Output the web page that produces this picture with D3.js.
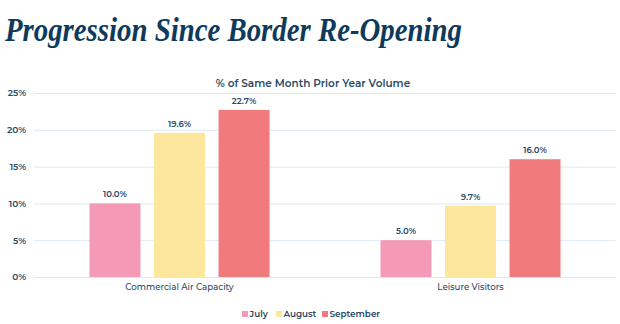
<!DOCTYPE html>
<html>
<head>
<meta charset="utf-8">
<script src="https://cdn.jsdelivr.net/npm/d3@7"></script>
<style>
  body { margin: 0; background: #ffffff; }
  text { font-family: "Montserrat", "Noto Sans", sans-serif; fill: #2b4a66; }
</style>
</head>
<body>
<div id="chart"></div>
<script>
// Chart data
var categories = ["Commercial Air Capacity", "Leisure Visitors"];
var months = ["July", "August", "September"];
var july = [10.0, 5.0];
var august = [19.6, 9.7];
var september = [22.7, 16.0];
var yTicks = [0, 5, 10, 15, 20, 25];

var seriesValues = [july, august, september];
var colors = ["#f49ab7", "#fde79c", "#f07a7c"];

var svgWidth = 620;
var svgHeight = 324;

var margin = { top: 93, right: 4, bottom: 47, left: 34 };
var width = svgWidth - margin.left - margin.right;
var height = svgHeight - margin.top - margin.bottom;

var svg = d3.select("#chart")
  .append("svg")
  .attr("width", svgWidth)
  .attr("height", svgHeight);

// Title
svg.append("text")
  .attr("x", 5)
  .attr("y", 41)
  .style("font-family", "'Liberation Serif', serif")
  .style("font-style", "italic")
  .style("font-weight", "bold")
  .style("font-size", "34px")
  .style("fill", "#0e3a5c")
  .attr("textLength", 457)
  .attr("lengthAdjust", "spacingAndGlyphs")
  .text("Progression Since Border Re-Opening");

// Subtitle
svg.append("text")
  .attr("x", 313)
  .attr("y", 87)
  .attr("text-anchor", "middle")
  .style("font-size", "10.5px")
  .style("font-weight", "600")
  .text("% of Same Month Prior Year Volume");

var chartGroup = svg.append("g")
  .attr("transform", `translate(${margin.left}, ${margin.top})`);

var x0 = d3.scaleBand()
  .domain(categories)
  .range([0, width])
  .padding(0);

var x1 = d3.scaleBand()
  .domain(months)
  .range([0, x0.bandwidth()])
  .paddingInner(0.21)
  .paddingOuter(0.86);

var y = d3.scaleLinear()
  .domain([0, 25])
  .range([height, 0]);

// Gridlines
var leftAxis = d3.axisLeft(y)
  .tickValues(yTicks)
  .tickSize(-width)
  .tickFormat(d => d + "%");

var yAxis = chartGroup.append("g")
  .call(leftAxis);

yAxis.select(".domain").remove();
yAxis.selectAll(".tick line")
  .attr("stroke", "#dce9f3")
  .attr("stroke-width", 1);
yAxis.selectAll(".tick text")
  .attr("x", -8)
  .style("font-size", "9px")
  .style("font-weight", "600")
  .style("fill", "#2b4a66");

// Bars
var barData = [];
categories.forEach(function(cat, i) {
  months.forEach(function(m, j) {
    barData.push({ cat: cat, month: m, value: seriesValues[j][i], color: colors[j] });
  });
});

var groups = chartGroup.append("g");

groups.selectAll("rect")
  .data(barData)
  .enter()
  .append("rect")
  .attr("x", d => x0(d.cat) + x1(d.month))
  .attr("y", d => y(d.value))
  .attr("width", x1.bandwidth())
  .attr("height", d => height - y(d.value))
  .attr("fill", d => d.color);

groups.selectAll("text")
  .data(barData)
  .enter()
  .append("text")
  .attr("x", d => x0(d.cat) + x1(d.month) + x1.bandwidth() / 2)
  .attr("y", d => y(d.value) - 6)
  .attr("text-anchor", "middle")
  .style("font-size", "8.5px")
  .style("font-weight", "600")
  .text(d => d.value.toFixed(1) + "%");

// Category labels
var bottomAxis = d3.axisBottom(x0).tickSize(0);
var xAxis = chartGroup.append("g")
  .attr("transform", `translate(0, ${height})`)
  .call(bottomAxis);
xAxis.select(".domain").remove();
xAxis.selectAll(".tick text")
  .attr("dy", "1.1em")
  .style("font-size", "8.7px")
  .style("font-weight", "500")
  .style("fill", "#2b4a66");

// Legend
var legendX = [242, 276, 322];
var legend = svg.append("g")
  .attr("transform", "translate(0, 314)");

var items = legend.selectAll("g")
  .data(months)
  .enter()
  .append("g")
  .attr("transform", (d, i) => `translate(${legendX[i]}, 0)`);

items.append("rect")
  .attr("x", 0)
  .attr("y", -3)
  .attr("width", 6)
  .attr("height", 6)
  .attr("fill", (d, i) => colors[i]);

items.append("text")
  .attr("x", 7.5)
  .attr("y", 3.3)
  .style("font-size", "8.8px")
  .style("font-weight", "600")
  .text(d => d);
</script>
</body>
</html>
